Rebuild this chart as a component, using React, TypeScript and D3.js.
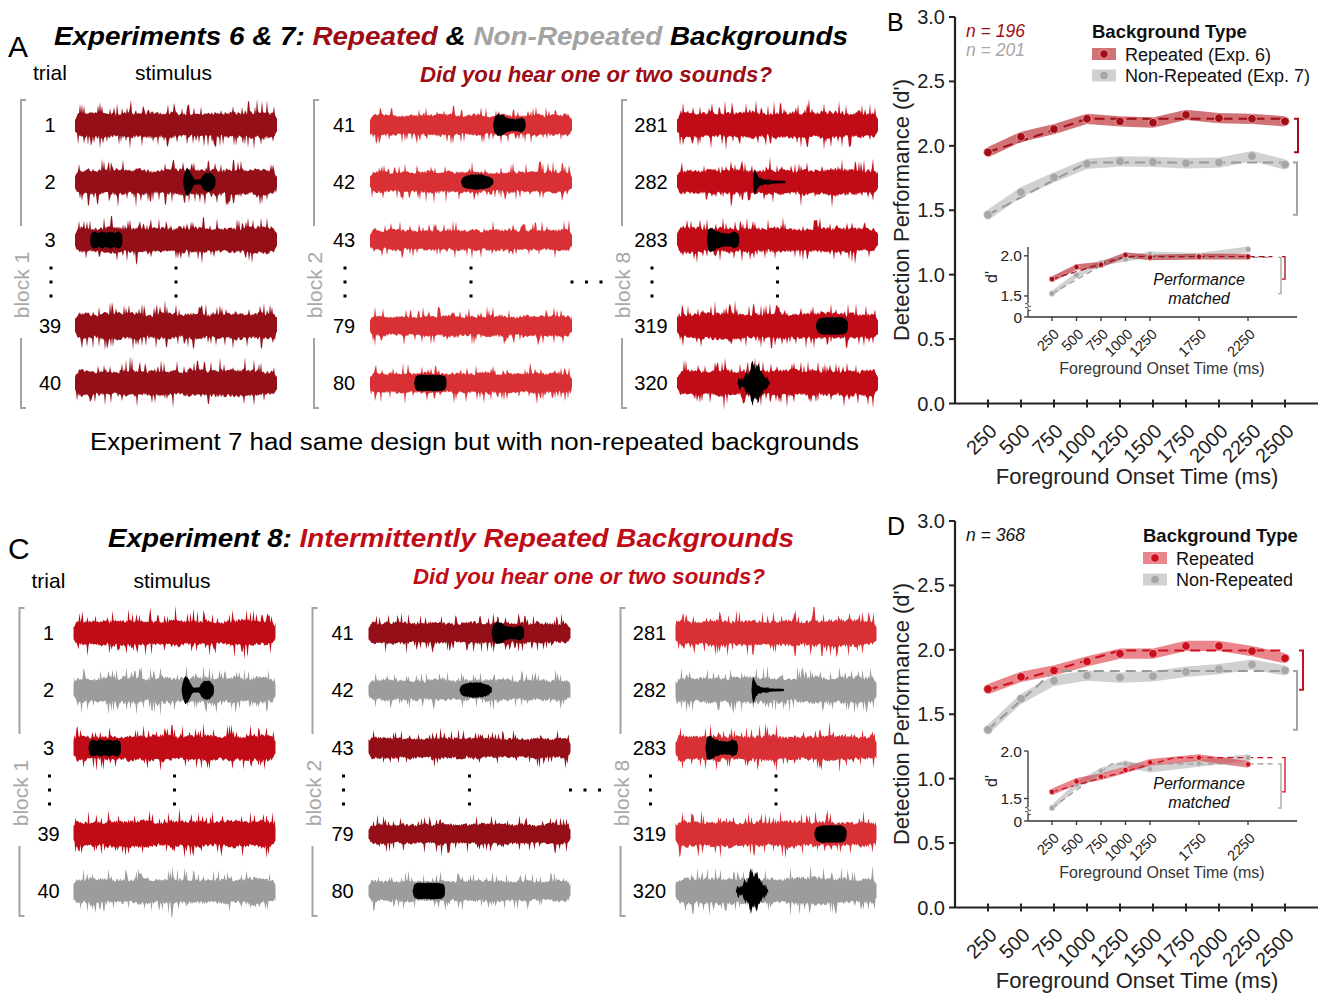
import * as d3 from "d3";

const FONT = "'Liberation Sans', Arial, Helvetica, sans-serif";

// ---------- performance data (d') ----------
const onsets = [250, 500, 750, 1000, 1250, 1500, 1750, 2000, 2250, 2500];
const yTicks = [0, 0.5, 1.0, 1.5, 2.0, 2.5, 3.0];

// Exp. 6 (repeated) vs Exp. 7 (non-repeated)
const exp6Repeated = [1.95, 2.07, 2.13, 2.21, 2.19, 2.18, 2.24, 2.215, 2.21, 2.19];
const exp7NonRepeated = [1.465, 1.64, 1.755, 1.86, 1.88, 1.875, 1.865, 1.87, 1.92, 1.855];
const exp6FitOnsets = [250, 1000, 2500];
const exp6FitValues = [1.95, 2.21, 2.21];
const exp7FitOnsets = [250, 1000, 2500];
const exp7FitValues = [1.465, 1.87, 1.87];

// performance-matched subsets (insets)
const insetOnsets = [250, 500, 750, 1000, 1250, 1750, 2250];
const insetYTicks = [1.5, 2.0];
const exp6Matched = [1.71, 1.86, 1.89, 2.01, 1.98, 1.99, 1.99];
const exp7Matched = [1.53, 1.76, 1.91, 1.96, 2.02, 2.0, 2.08];
const exp6MatchedFitOnsets = [250, 1000, 2500];
const exp6MatchedFitValues = [1.71, 1.99, 1.99];
const exp7MatchedFitOnsets = [250, 900, 2500];
const exp7MatchedFitValues = [1.53, 1.98, 1.98];

// Exp. 8 (intermittently repeated)
const exp8Repeated = [1.695, 1.79, 1.84, 1.91, 1.97, 1.97, 2.03, 2.03, 1.99, 1.935];
const exp8NonRepeated = [1.38, 1.62, 1.76, 1.8, 1.785, 1.795, 1.83, 1.85, 1.885, 1.84];
const exp8RepFitOnsets = [250, 1250, 2500];
const exp8RepFitValues = [1.69, 1.995, 1.995];
const exp8NonFitOnsets = [250, 750, 2500];
const exp8NonFitValues = [1.38, 1.835, 1.835];
const exp8RepMatched = [1.57, 1.68, 1.73, 1.8, 1.88, 1.93, 1.86];
const exp8NonMatched = [1.4, 1.645, 1.79, 1.865, 1.81, 1.87, 1.93];
const exp8RepMatchedFitOnsets = [250, 1500, 2500];
const exp8RepMatchedFitValues = [1.57, 1.93, 1.93];
const exp8NonMatchedFitOnsets = [250, 860, 2500];
const exp8NonMatchedFitValues = [1.4, 1.865, 1.865];

// ---------- stimulus schematic ----------
const blockTrials = [
  [1, 2, 3, 39, 40],
  [41, 42, 43, 79, 80],
  [281, 282, 283, 319, 320],
];
const blockNames = ["block 1", "block 2", "block 8"];
// background type per trial in Exp. 8 (R = repeated, N = non-repeated)
const exp8Backgrounds = [
  ["R", "N", "R", "R", "N"],
  ["R", "N", "R", "R", "N"],
  ["R", "N", "R", "R", "N"],
];
// foreground sounds: [block column, row, onset fraction, shape]
const foregrounds: [number, number, number, string][] = [
  [0, 1, 0.535, "double"],
  [0, 2, 0.074, "train"],
  [1, 0, 0.61, "bulb"],
  [1, 1, 0.45, "cigar"],
  [1, 4, 0.218, "pill"],
  [2, 1, 0.378, "ping"],
  [2, 2, 0.149, "horn"],
  [2, 3, 0.69, "oval"],
  [2, 4, 0.3, "burst"],
];

const fgShapes: Record<string, number[][]> = {
  double: [[0, 0], [0.04, 8], [0.12, 14], [0.22, 10], [0.3, 4], [0.36, 2], [0.55, 2], [0.6, 6], [0.7, 8.5], [0.85, 8.5], [0.95, 5], [1, 0]],
  train: [[0, 0], [0.04, 6], [0.12, 8], [0.25, 6.5], [0.38, 8], [0.5, 6.5], [0.63, 8], [0.76, 6.5], [0.88, 8], [0.96, 6], [1, 0]],
  bulb: [[0, 0], [0.04, 7], [0.14, 10.5], [0.28, 10], [0.4, 6.5], [0.55, 5.5], [0.72, 5.5], [0.85, 6.5], [0.95, 5], [1, 0]],
  cigar: [[0, 0], [0.05, 4], [0.18, 6], [0.4, 7], [0.7, 6.5], [0.88, 4.5], [1, 1]],
  pill: [[0, 0], [0.05, 6], [0.15, 7.5], [0.85, 7.5], [0.95, 6], [1, 0]],
  ping: [[0, 0], [0.02, 8], [0.06, 13], [0.12, 7], [0.2, 3.5], [0.35, 2], [0.6, 1.4], [1, 1]],
  horn: [[0, 0], [0.04, 10], [0.14, 11.5], [0.3, 8], [0.5, 6], [0.72, 6], [0.82, 8], [0.94, 6], [1, 0]],
  oval: [[0, 0], [0.06, 6], [0.2, 8], [0.8, 8], [0.94, 6], [1, 0]],
  burst: [[0, 0], [0.05, 2.5], [0.22, 2.5], [0.28, 10], [0.36, 6], [0.45, 19], [0.55, 12], [0.63, 17], [0.72, 9], [0.85, 4], [1, 0]],
};

// deterministic texture for the noise glyphs
function mulberry32(seed: number) {
  let a = seed >>> 0;
  return () => {
    a = (a + 0x6d2b79f5) >>> 0;
    let t = a;
    t = Math.imul(t ^ (t >>> 15), t | 1);
    t ^= t + Math.imul(t ^ (t >>> 7), t | 61);
    return ((t ^ (t >>> 14)) >>> 0) / 4294967296;
  };
}

const bandArea = d3.area<number[]>().x((d) => d[0]).y0((d) => d[2]).y1((d) => d[1]);

function noisePath(x0: number, x1: number, cy: number, amp: number, seed: number) {
  const rnd = mulberry32(seed);
  // slow envelope knots every 7px
  const knots: number[] = [];
  for (let k = 0; k <= (x1 - x0) / 7 + 2; k++) knots.push(0.88 + 0.24 * rnd());
  const pts: number[][] = [];
  for (let x = x0; x <= x1; x += 1) {
    const edge = Math.min(x - x0, x1 - x);
    const ramp = 0.5 + 0.5 * Math.min(1, edge / 3.5);
    const kf = (x - x0) / 7;
    const ki = Math.floor(kf);
    const mod = knots[ki] + (knots[ki + 1] - knots[ki]) * (kf - ki);
    const up = (10 + 3.5 * rnd() + (rnd() < 0.17 ? 3 + 9 * rnd() : 0)) * amp * ramp * mod;
    const dn = (10 + 3.5 * rnd() + (rnd() < 0.17 ? 3 + 9 * rnd() : 0)) * amp * ramp * mod;
    pts.push([x, cy - up, cy + dn]);
  }
  return bandArea(pts) || "";
}

function blobPath(x0: number, w: number, cy: number, shape: string, seed: number) {
  const pts = fgShapes[shape];
  const env = d3.scaleLinear().domain(pts.map((p) => p[0])).range(pts.map((p) => p[1]));
  const rnd = mulberry32(seed);
  const jit = shape === "burst" ? 5 : 1.2;
  const out: number[][] = [];
  for (let x = 0; x <= w; x += 0.6) {
    const a = env(x / w);
    out.push([x0 + x, cy - a - rnd() * jit * (a > 1.5 ? 1 : 0.3), cy + a + rnd() * jit * (a > 1.5 ? 1 : 0.3)]);
  }
  return bandArea(out) || "";
}

const lineGen = d3.line<number[]>().x((d) => d[0]).y((d) => d[1]);

// ---------- stimulus panel (A / C) ----------
function StimulusPanel(props: {
  dy: number;
  letter: string;
  title: { text: string; color: string }[];
  titleX: number;
  titleLen: number;
  questionColor: string;
  questionX: number;
  rowColor: (col: number, row: number) => string;
  footnote?: string;
  seedBase: number;
  dx: number;
}) {
  const { dy, dx } = props;
  const rowsY = [125, 182, 240, 326, 383].map((v) => v + dy);
  const labelX = [50, 344, 651].map((v) => v + dx);
  const waveX0 = [75, 370, 677].map((v) => v + dx);
  const waveX1 = [277, 572, 878].map((v) => v + dx);
  const bracketX = [21, 314, 622].map((v) => v + dx);
  const colAmp = [1, 0.82, 1];
  const dotYs = [268, 282, 296].map((v) => v + dy);
  const tdy = dy - (dy > 0 ? 6 : 0);

  return (
    <g>
      <text x={8} y={57 + tdy} fontSize={30} fontFamily={FONT}>
        {props.letter}
      </text>
      <text
        x={props.titleX}
        y={45 + tdy}
        fontSize={26}
        fontWeight="bold"
        fontStyle="italic"
        fontFamily={FONT}
        textLength={props.titleLen}
        lengthAdjust="spacingAndGlyphs"
      >
        {props.title.map((t, i) => (
          <tspan key={i} fill={t.color}>
            {t.text}
          </tspan>
        ))}
      </text>
      <text x={33 + dx} y={80 + dy} fontSize={21} fontFamily={FONT}>
        trial
      </text>
      <text x={135 + dx} y={80 + dy} fontSize={21} fontFamily={FONT}>
        stimulus
      </text>
      <text
        x={props.questionX}
        y={82 + tdy}
        fontSize={22}
        fontWeight="bold"
        fontStyle="italic"
        fill={props.questionColor}
        fontFamily={FONT}
        textLength={352}
        lengthAdjust="spacingAndGlyphs"
      >
        Did you hear one or two sounds?
      </text>

      {blockTrials.map((trials, c) => (
        <g key={c}>
          {/* block bracket */}
          <path
            d={`M${bracketX[c] + 5},${100 + dy}H${bracketX[c]}V${226 + dy}`}
            fill="none"
            stroke="#a3a3a3"
            strokeWidth={2}
          />
          <path
            d={`M${bracketX[c]},${338 + dy}V${408 + dy}H${bracketX[c] + 5}`}
            fill="none"
            stroke="#a3a3a3"
            strokeWidth={2}
          />
          <text
            transform={`translate(${bracketX[c] + 8},${285 + dy}) rotate(-90)`}
            textAnchor="middle"
            fontSize={21}
            fill="#a8a8a8"
            fontFamily={FONT}
          >
            {blockNames[c]}
          </text>
          {trials.map((t, r) => (
            <g key={r}>
              <text
                x={labelX[c]}
                y={rowsY[r] + 7}
                textAnchor="middle"
                fontSize={20}
                fontFamily={FONT}
              >
                {t}
              </text>
              <path
                d={noisePath(waveX0[c], waveX1[c], rowsY[r], colAmp[c], props.seedBase + c * 17 + r * 5)}
                fill={props.rowColor(c, r)}
              />
            </g>
          ))}
          {dotYs.map((y, i) => (
            <g key={i}>
              <rect x={labelX[c] + 1 - 1.5} y={y - 1.5} width={3} height={3} fill="#000" />
              <rect
                x={(waveX0[c] + waveX1[c]) / 2 - 1.5}
                y={y - 1.5}
                width={3}
                height={3}
                fill="#000"
              />
            </g>
          ))}
        </g>
      ))}
      {foregrounds.map(([c, r, f, shape], i) => (
        <path
          key={i}
          d={blobPath(waveX0[c] + f * (waveX1[c] - waveX0[c]), 33, rowsY[r], shape, 900 + i * 13)}
          fill="#000"
        />
      ))}
      {[572, 586.5, 601].map((x, i) => (
        <rect key={i} x={x + dx - 1.5} y={282 + dy - 1.5} width={3} height={3} fill="#000" />
      ))}
      {props.footnote && (
        <text
          x={90}
          y={450 + dy}
          fontSize={23}
          fontFamily={FONT}
          textLength={769}
          lengthAdjust="spacingAndGlyphs"
        >
          {props.footnote}
        </text>
      )}
    </g>
  );
}

// ---------- performance panel (B / D) ----------
function PerfPanel(props: {
  dy: number;
  letter: string;
  rep: number[];
  non: number[];
  repFit: number[][];
  nonFit: number[][];
  repIn: number[];
  nonIn: number[];
  repInFit: number[][];
  nonInFit: number[][];
  insetTop: number;
  repColor: string;
  repBand: string;
  repBandOpacity: number;
  legendX: number;
  legendLabels: string[];
  nLabels: { text: string; color: string }[];
  repBracketX: number;
}) {
  const { dy } = props;
  const x = d3.scaleLinear().domain([250, 2500]).range([988, 1285]);
  const y = d3.scaleLinear().domain([0, 3]).range([403.5 + dy, 17 + dy]);
  const y0 = y(0);
  const grayLine = "#a3a3a3";
  const grayBand = "#bdbdbd";

  const xi = d3.scaleLinear().domain([250, 2500]).range([1052, 1272.5]);
  const yi = d3.scaleLinear().domain([1.4, props.insetTop]).range([304 + dy, 247 + dy]);
  const yi0 = 317 + dy;

  const band = (xs: number[], vs: number[], sx: any, sy: any, h: number) =>
    d3
      .area<number>()
      .x((_, i) => sx(xs[i]))
      .y0((v) => sy(v - h))
      .y1((v) => sy(v + h))(vs) || "";
  const fitLine = (fit: number[][], sx: any, sy: any) =>
    lineGen(fit[0].map((o, i) => [sx(o), sy(fit[1][i])])) || "";
  const bracket = (bx: number, ya: number, yb: number, len: number) =>
    `M${bx - len},${ya}H${bx}V${yb}H${bx - len}`;

  const series = (
    xs: number[],
    rep: number[],
    non: number[],
    repFit: number[][],
    nonFit: number[][],
    sx: any,
    sy: any,
    h: number,
    r: number,
    dash: string,
    lw: number
  ) => (
    <g>
      <path d={band(xs, non, sx, sy, h)} fill={grayBand} fillOpacity={0.7} />
      <path d={band(xs, rep, sx, sy, h)} fill={props.repBand} fillOpacity={props.repBandOpacity} />
      <path d={fitLine(nonFit, sx, sy)} fill="none" stroke="#999" strokeWidth={lw} strokeDasharray={dash} />
      <path d={fitLine(repFit, sx, sy)} fill="none" stroke={props.repColor} strokeWidth={lw} strokeDasharray={dash} />
      {non.map((v, i) => (
        <circle key={"n" + i} cx={sx(xs[i])} cy={sy(v)} r={r} fill="#a6a6a6" stroke="#d8d8d8" strokeWidth={0.8} />
      ))}
      {rep.map((v, i) => (
        <circle key={"r" + i} cx={sx(xs[i])} cy={sy(v)} r={r} fill={props.repColor} stroke="#f0c0c0" strokeWidth={0.8} />
      ))}
    </g>
  );

  return (
    <g fontFamily={FONT}>
      <text x={887} y={31 + dy} fontSize={25}>
        {props.letter}
      </text>
      {/* main axes */}
      <line x1={955} x2={955} y1={17 + dy} y2={y0} stroke="#222" strokeWidth={2.2} />
      <line x1={955} x2={1318} y1={y0} y2={y0} stroke="#222" strokeWidth={2.2} />
      {yTicks.map((t) => (
        <g key={t}>
          <line x1={949} x2={955} y1={y(t)} y2={y(t)} stroke="#222" strokeWidth={2} />
          <text x={945} y={y(t) + 7} textAnchor="end" fontSize={20} fill="#222">
            {t.toFixed(1)}
          </text>
        </g>
      ))}
      {onsets.map((o) => (
        <g key={o}>
          <line x1={x(o)} x2={x(o)} y1={y0 - 4} y2={y0 + 4} stroke="#222" strokeWidth={2} />
          <text
            transform={`translate(${x(o) + 10},${y0 + 29}) rotate(-45)`}
            textAnchor="end"
            fontSize={20}
            fill="#222"
          >
            {o}
          </text>
        </g>
      ))}
      <text x={1137} y={484 + dy} textAnchor="middle" fontSize={22} fill="#222">
        Foreground Onset Time (ms)
      </text>
      <text
        transform={`translate(909,${210 + dy}) rotate(-90)`}
        textAnchor="middle"
        fontSize={22}
        fill="#222"
      >
        Detection Performance (d')
      </text>

      {series(onsets, props.rep, props.non, props.repFit, props.nonFit, x, y, 0.04, 4.3, "10 6", 2)}

      {/* brackets: change from first onset to plateau */}
      <path
        d={bracket(props.repBracketX, y(props.repFit[1][2]), y(props.repFit[1][0]), 4)}
        fill="none"
        stroke={props.repColor}
        strokeWidth={2}
      />
      <path
        d={bracket(1297, y(props.nonFit[1][2]), y(props.nonFit[1][0]), 4)}
        fill="none"
        stroke={grayLine}
        strokeWidth={2}
      />

      {/* legend */}
      <text x={props.legendX} y={37.5 + dy} fontSize={18.5} fontWeight="bold" fill="#111">
        Background Type
      </text>
      {[0, 1].map((i) => (
        <g key={i} transform={`translate(${props.legendX},${54 + i * 21.5 + dy})`}>
          <rect
            x={0}
            y={-6}
            width={24}
            height={12}
            fill={i === 0 ? props.repBand : grayBand}
            fillOpacity={i === 0 ? props.repBandOpacity : 0.7}
          />
          <circle cx={12} cy={0} r={4.3} fill={i === 0 ? props.repColor : "#a6a6a6"} stroke={i === 0 ? "#f0c0c0" : "#d8d8d8"} strokeWidth={0.8} />
          <text x={33} y={6.5} fontSize={18} fill="#111">
            {props.legendLabels[i]}
          </text>
        </g>
      ))}
      {props.nLabels.map((n, i) => (
        <text key={i} x={966} y={36.5 + i * 19.3 + dy} fontSize={17.5} fontStyle="italic" fill={n.color}>
          {n.text}
        </text>
      ))}

      {/* inset: performance matched */}
      <line x1={1028} x2={1028} y1={247 + dy} y2={303 + dy} stroke="#333" strokeWidth={1.3} />
      <line x1={1028} x2={1028} y1={310 + dy} y2={yi0} stroke="#333" strokeWidth={1.3} />
      <path
        d={`M1025,${304 + dy}Q1028,${302 + dy} 1028,${305 + dy}T1031,${306 + dy}M1025,${308 + dy}Q1028,${306 + dy} 1028,${309 + dy}T1031,${310 + dy}`}
        fill="none"
        stroke="#333"
        strokeWidth={1}
      />
      <line x1={1028} x2={1297} y1={yi0} y2={yi0} stroke="#333" strokeWidth={1.3} />
      {insetYTicks.map((t) => (
        <g key={t}>
          <line x1={1024} x2={1028} y1={yi(t)} y2={yi(t)} stroke="#333" strokeWidth={1.3} />
          <text x={1022} y={yi(t) + 5.5} textAnchor="end" fontSize={15.5} fill="#222">
            {t.toFixed(1)}
          </text>
        </g>
      ))}
      <line x1={1024} x2={1028} y1={yi0} y2={yi0} stroke="#333" strokeWidth={1.3} />
      <text x={1022} y={yi0 + 5.5} textAnchor="end" fontSize={15.5} fill="#222">
        0
      </text>
      {insetOnsets.map((o) => (
        <g key={o}>
          <line x1={xi(o)} x2={xi(o)} y1={yi0} y2={yi0 + 4} stroke="#333" strokeWidth={1.3} />
          <text
            transform={`translate(${xi(o) + 8},${yi0 + 18}) rotate(-45)`}
            textAnchor="end"
            fontSize={14.5}
            fill="#222"
          >
            {o}
          </text>
        </g>
      ))}
      <text x={1162} y={374 + dy} textAnchor="middle" fontSize={16} fill="#333">
        Foreground Onset Time (ms)
      </text>
      <text transform={`translate(997,${277 + dy}) rotate(-90)`} textAnchor="middle" fontSize={16} fill="#222">
        d'
      </text>
      {series(insetOnsets, props.repIn, props.nonIn, props.repInFit, props.nonInFit, xi, yi, 0.035, 2.8, "6 4", 1.3)}
      <path
        d={bracket(1285, yi(props.repInFit[1][2]), yi(props.repInFit[1][0]), 3)}
        fill="none"
        stroke={props.repColor}
        strokeWidth={1.3}
      />
      <path
        d={bracket(1281, yi(props.nonInFit[1][2]), yi(props.nonInFit[1][0]), 3)}
        fill="none"
        stroke={grayLine}
        strokeWidth={1.3}
      />
      <text x={1199} y={285 + dy} textAnchor="middle" fontSize={16} fontStyle="italic" fill="#111">
        Performance
      </text>
      <text x={1199} y={304 + dy} textAnchor="middle" fontSize={16} fontStyle="italic" fill="#111">
        matched
      </text>
    </g>
  );
}

const RED_DARK = "#950f18";
const RED_BRIGHT = "#d93035";
const RED_MID = "#c10c18";
const GRAY_WAVE = "#9c9c9c";

export default function App() {
  const colA = [RED_DARK, RED_BRIGHT, RED_MID];
  const colC = [RED_MID, RED_DARK, RED_BRIGHT];
  return (
    <svg
      width={1325}
      height={993}
      style={{ position: "absolute", left: 0, top: 0, background: "#fff", display: "block" }}
    >
      <StimulusPanel
        dy={0}
        dx={0}
        letter="A"
        title={[
          { text: "Experiments 6 & 7: ", color: "#000" },
          { text: "Repeated", color: "#9b0d15" },
          { text: " & ", color: "#000" },
          { text: "Non-Repeated", color: "#a3a3a3" },
          { text: " Backgrounds", color: "#000" },
        ]}
        titleX={54}
        titleLen={794}
        questionColor="#9b0d15"
        questionX={420}
        rowColor={(c) => colA[c]}
        footnote="Experiment 7 had same design but with non-repeated backgrounds"
        seedBase={11}
      />
      <StimulusPanel
        dy={508}
        dx={-1.5}
        letter="C"
        title={[
          { text: "Experiment 8: ", color: "#000" },
          { text: "Intermittently Repeated Backgrounds", color: "#c10c18" },
        ]}
        titleX={108}
        titleLen={686}
        questionColor="#c10c18"
        questionX={413}
        rowColor={(c, r) => (exp8Backgrounds[c][r] === "N" ? GRAY_WAVE : colC[c])}
        seedBase={211}
      />
      <PerfPanel
        dy={0}
        letter="B"
        rep={exp6Repeated}
        non={exp7NonRepeated}
        repFit={[exp6FitOnsets, exp6FitValues]}
        nonFit={[exp7FitOnsets, exp7FitValues]}
        repIn={exp6Matched}
        nonIn={exp7Matched}
        repInFit={[exp6MatchedFitOnsets, exp6MatchedFitValues]}
        nonInFit={[exp7MatchedFitOnsets, exp7MatchedFitValues]}
        insetTop={2.11}
        repColor="#a30d16"
        repBand="#b3141d"
        repBandOpacity={0.6}
        legendX={1092}
        legendLabels={["Repeated (Exp. 6)", "Non-Repeated (Exp. 7)"]}
        nLabels={[
          { text: "n = 196", color: "#a30d16" },
          { text: "n = 201", color: "#a8a8a8" },
        ]}
        repBracketX={1298}
      />
      <PerfPanel
        dy={504}
        letter="D"
        rep={exp8Repeated}
        non={exp8NonRepeated}
        repFit={[exp8RepFitOnsets, exp8RepFitValues]}
        nonFit={[exp8NonFitOnsets, exp8NonFitValues]}
        repIn={exp8RepMatched}
        nonIn={exp8NonMatched}
        repInFit={[exp8RepMatchedFitOnsets, exp8RepMatchedFitValues]}
        nonInFit={[exp8NonMatchedFitOnsets, exp8NonMatchedFitValues]}
        insetTop={2.0}
        repColor="#cc0e1d"
        repBand="#d9202c"
        repBandOpacity={0.55}
        legendX={1143}
        legendLabels={["Repeated", "Non-Repeated"]}
        nLabels={[{ text: "n = 368", color: "#111" }]}
        repBracketX={1303}
      />
    </svg>
  );
}
